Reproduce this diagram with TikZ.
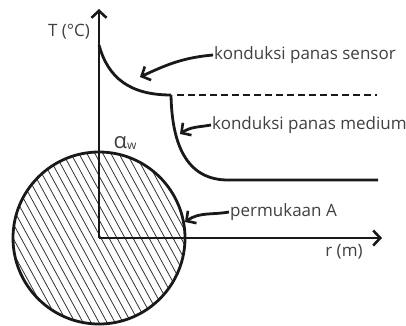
\documentclass[tikz,border=0pt]{standalone}
\usepackage{fontspec}
\setmainfont{Open Sans}
\usetikzlibrary{arrows.meta, positioning, calc}

\begin{document}
\begin{tikzpicture}[
        x=1pt, y=-1pt,
        sumbu/.style={line width=2.8pt, draw=black!90, -{Straight Barb[length=7pt, width=15pt, line width=2.6pt]}},
        kurva/.style={line width=2.8pt, draw=black!90},
        panah/.style={line width=2.8pt, draw=black!90, -{Straight Barb[length=7pt, width=15pt, line width=2.6pt]}},
        ket/.style={font=\fontsize{17}{19}\selectfont, text=black!75, inner sep=1pt},
        arsir/.style={line width=0.8pt, draw=black!80}
    ]
        \useasboundingbox (0,0) rectangle (406,325);

        % titik acuan
        \coordinate (o) at (99,238);
        \coordinate (atas) at (99,9);
        \coordinate (kanan) at (382,238);

        % lingkaran sensor (arsir)
        \begin{scope}
            \clip (o) circle (86);
            \foreach \d in {-150,-142,...,160} {
                \draw[arsir] ($(o)+(\d-60,-110)$) -- ($(o)+(\d+60,110)$);
            }
        \end{scope}
        \draw[kurva] (o) circle (86);

        % sumbu
        \draw[sumbu] (o) -- (atas);
        \draw[sumbu] (o) -- (kanan);

        % kurva suhu
        \coordinate (s0) at (99,45);
        \coordinate (s1) at (171,95);
        \coordinate (m1) at (228,180);
        \coordinate (m2) at (378,180);
        \coordinate (d1) at (377,95);
        \draw[kurva] (s0) .. controls (108,78) and (130,95) .. (s1);
        \draw[kurva] (s1) .. controls (172,150) and (190,180) .. (m1) -- (m2);
        \draw[kurva, dash pattern=on 7pt off 4pt] ($(s1)+(6,0)$) -- (d1);

        % keterangan
        \node[ket] (lblT) at (69,32) {T (°C)};
        \node[ket] (lblR) at (344,252) {r (m)};
        \node[ket, anchor=west] (lblSensor) at (213,55) {konduksi panas sensor};
        \node[ket, anchor=west] (lblMedium) at (211,125) {konduksi panas medium};
        \node[ket, anchor=west] (lblA) at (229,212) {permukaan A};
        \node[ket, inner sep=0pt] (alpha) at (125,143) {{\fontsize{22}{24}\selectfont α}\raisebox{-0.1ex}{\fontsize{12}{13}\selectfont w}};

        \coordinate (tSensor) at (140,77);
        \coordinate (tMedium) at (180,134);
        \coordinate (tA) at (185,222);
        \draw[panah] (lblSensor.west) to[out=185,in=25] (tSensor);
        \draw[panah] (lblMedium.west) to[out=190,in=35] (tMedium);
        \draw[panah] (lblA.west) to[out=190,in=35] (tA);
    \end{tikzpicture}
\end{document}
